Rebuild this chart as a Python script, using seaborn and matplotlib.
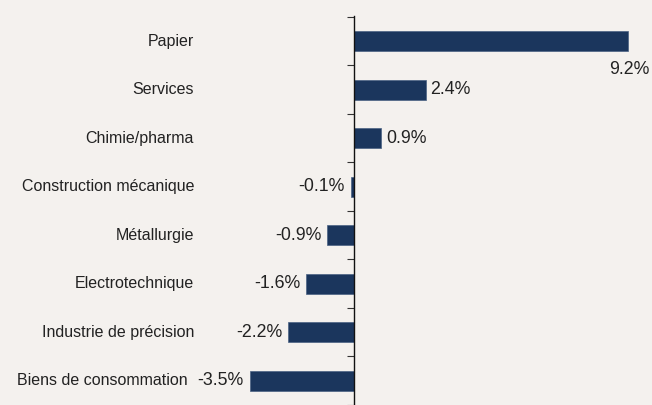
import matplotlib
matplotlib.use("Agg")
import matplotlib.pyplot as plt
import matplotlib.transforms as mtransforms
import seaborn as sns
import pandas as pd

# Data
sectors = ["Papier", "Services", "Chimie/pharma", "Construction mécanique",
           "Métallurgie", "Electrotechnique", "Industrie de précision",
           "Biens de consommation"]
change = [9.2, 2.4, 0.9, -0.1, -0.9, -1.6, -2.2, -3.5]
labels = ["9.2%", "2.4%", "0.9%", "-0.1%", "-0.9%", "-1.6%", "-2.2%", "-3.5%"]

bg = "#f4f1ee"
bar_color = "#1b365d"

sns.set_style("white")
plt.rcParams["font.family"] = ["Liberation Sans", "DejaVu Sans"]

df = pd.DataFrame({"sector": sectors, "change": change})

fig = plt.figure(figsize=(6.52, 4.05), dpi=100, facecolor=bg)
ax = fig.add_axes([200 / 652, 0, 440 / 652, 389 / 405])
ax.set_facecolor(bg)

sns.barplot(data=df, x="change", y="sector", orient="h", color=bar_color,
            saturation=1, width=0.41, edgecolor="#4a6283", linewidth=0.5, ax=ax)

px_per_unit = 29.8
ax.set_xlim(-154 / px_per_unit, 286 / px_per_unit)
ax.set_ylim(-0.5 + 389 / 49, -0.52)

for s in ["top", "right", "bottom"]:
    ax.spines[s].set_visible(False)
ax.spines["left"].set_position(("data", 0))
ax.spines["left"].set_color("#111111")
ax.spines["left"].set_linewidth(1)

ax.set_xticks([])
ax.set_yticks([i - 0.5 for i in range(len(sectors) + 1)])
ax.set_yticklabels([])
ax.tick_params(axis="y", left=True, direction="out", length=5, width=0.8,
               color="#333333")
ax.set_xlabel("")
ax.set_ylabel("")

# category labels at the far left
trans = mtransforms.blended_transform_factory(fig.transFigure, ax.transData)
for i, name in enumerate(sectors):
    xr = 194 if i < len(sectors) - 1 else 188
    ax.text(xr / 652, i, name, transform=trans, ha="right", va="center",
            fontsize=11.5, color="#222222")

# value labels
for i, (v, lab) in enumerate(zip(change, labels)):
    if i == 0:
        ax.annotate(lab, (v, i), xytext=(21, -28), textcoords="offset pixels",
                    ha="right", va="center", fontsize=12.8, color="#222222")
    elif v >= 0:
        ax.annotate(lab, (v, i), xytext=(5, 0), textcoords="offset pixels",
                    ha="left", va="center", fontsize=12.8, color="#222222")
    else:
        ax.annotate(lab, (v, i), xytext=(-6, 0), textcoords="offset pixels",
                    ha="right", va="center", fontsize=12.8, color="#222222")

fig.savefig("out.png", dpi=100, facecolor=bg)
